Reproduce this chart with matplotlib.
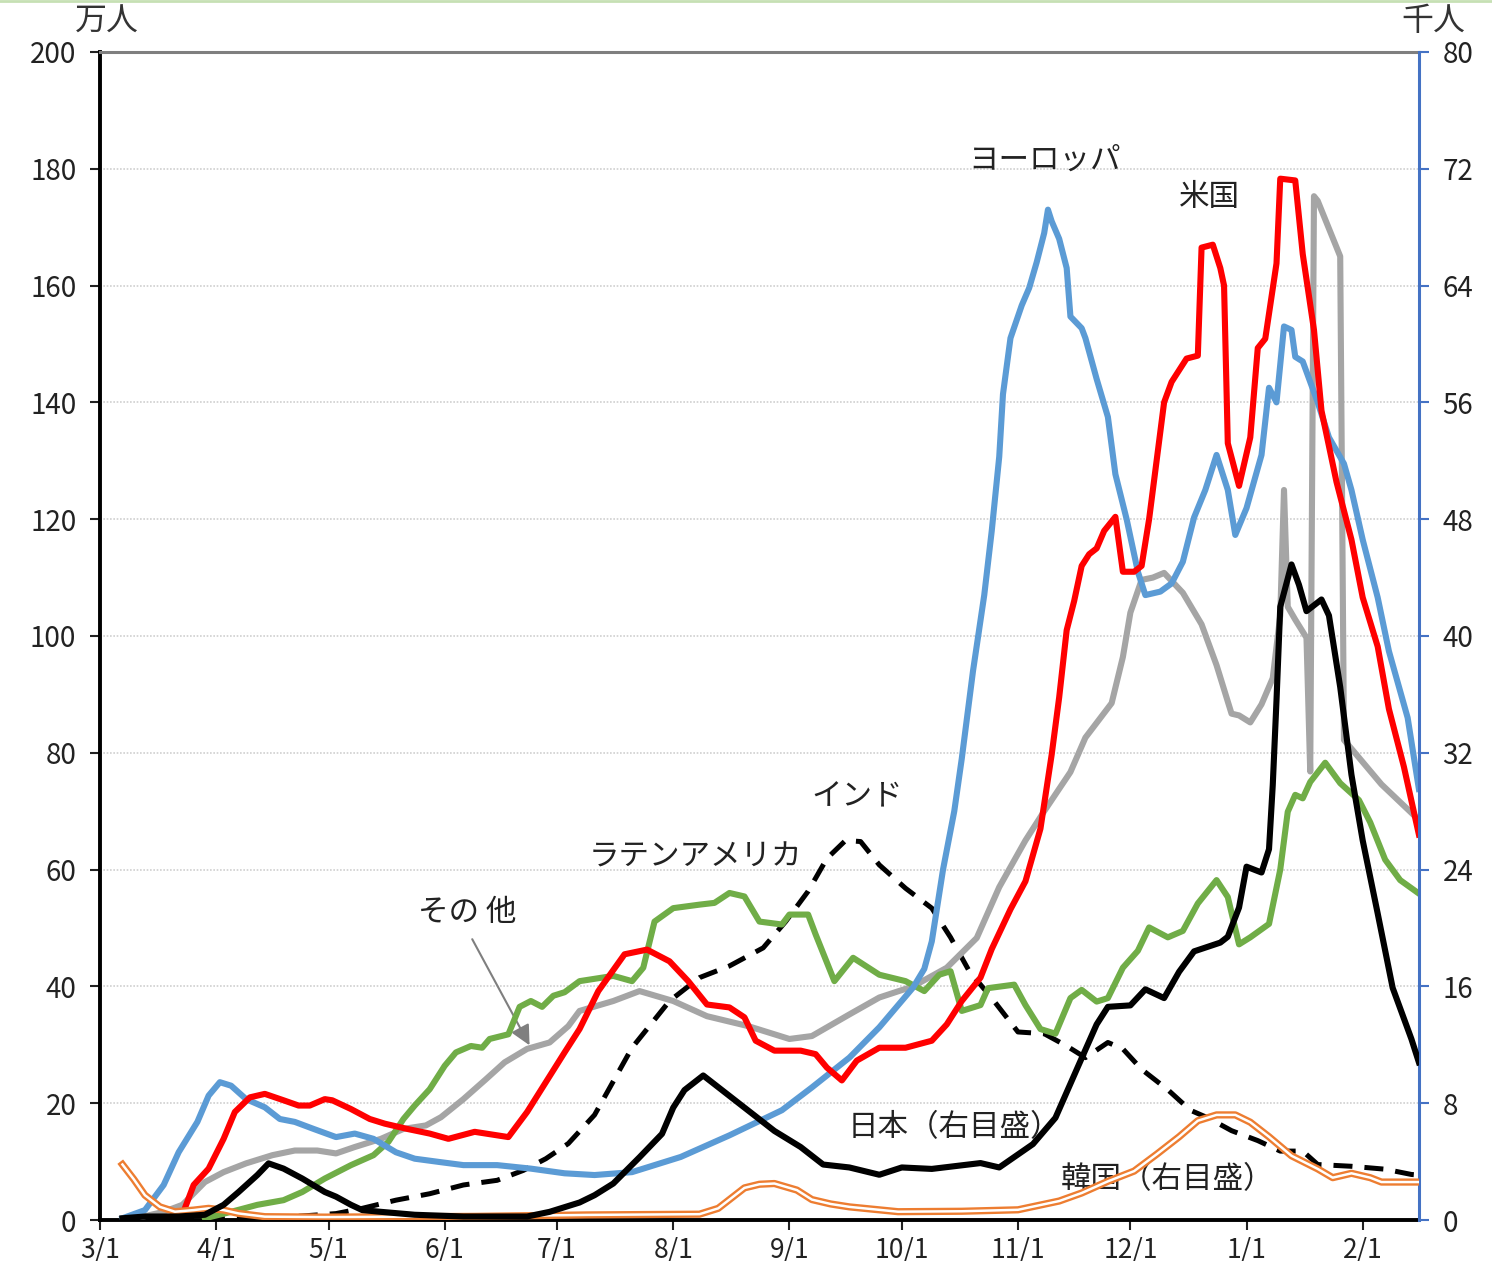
import matplotlib
matplotlib.use("Agg")
import matplotlib.pyplot as plt
import matplotlib.dates as mdates
from matplotlib.lines import Line2D
from matplotlib.ticker import FuncFormatter, MultipleLocator
import pandas as pd

plt.rcParams['font.family'] = ['Noto Sans CJK JP', 'DejaVu Sans']

START = pd.Timestamp("2020-03-01")
END_DAY = 352

# days counted from 2020/3/1; left axis = 万人, right axis = 千人
europe_day = [6, 12, 17, 21, 26, 29, 32, 35, 39, 44, 48, 52, 57, 63, 68, 73, 79, 84, 91, 97,
              106, 115, 124, 132, 142, 155, 168, 182, 190, 200, 208, 217, 220, 222, 225, 228, 230, 233, 236, 238,
              240, 241, 243, 246, 248, 250, 252, 253, 254, 256, 258, 259, 262, 263, 266, 269, 271, 274, 277, 279,
              283, 286, 289, 292, 295, 298, 301, 303, 306, 310, 312, 314, 316, 318, 319, 321, 325, 328, 332, 334,
              337, 341, 344, 349, 352]
europe_val = [0.3, 1.7, 6, 11.6, 16.8, 21.3, 23.6, 23, 20.7, 19.3, 17.3, 16.8, 15.6, 14.2, 14.8, 13.9, 11.6, 10.5, 9.9, 9.4,
              9.4, 8.8, 8, 7.7, 8.2, 10.8, 14.5, 18.8, 22.7, 27.8, 33, 39.8, 43, 47.7, 60, 70, 79, 94, 107, 118,
              130.7, 141.4, 151, 156.6, 159.6, 164, 169, 173, 171, 168, 163, 154.7, 152.7, 151, 144, 137.5, 127.7, 120, 111, 107,
              107.6, 109, 112.7, 120.3, 125, 131, 125, 117.3, 121.9, 131, 142.5, 140, 153, 152.4, 147.8, 147, 140, 134, 129.5, 125,
              116.5, 106.6, 97.4, 86, 73.8]

us_day = [22, 25, 29, 33, 36, 40, 44, 49, 53, 56, 60, 62, 67, 72, 76, 82, 88, 93, 100, 106,
          109, 114, 119, 124, 128, 133, 140, 146, 152, 157, 162, 168, 172, 175, 180, 187, 191, 194, 198, 202,
          208, 215, 222, 226, 230, 235, 238, 243, 247, 251, 254, 256, 258, 260, 262, 264, 266, 268, 271, 273,
          276, 278, 280, 282, 284, 286, 290, 293, 294, 297, 299, 300, 301, 304, 307, 309, 311, 314, 315, 319,
          321, 324, 326, 330, 334, 337, 341, 344, 348, 352]
us_val = [0.9, 6, 8.8, 13.9, 18.5, 21, 21.6, 20.5, 19.6, 19.6, 20.7, 20.5, 19, 17.3, 16.5, 15.6, 14.8, 13.9, 15.1, 14.5,
          14.2, 18.5, 23.6, 28.7, 32.7, 39.2, 45.5, 46.3, 44.3, 40.9, 36.9, 36.4, 34.7, 30.7, 29, 29, 28.4, 26.1, 23.9, 27.3,
          29.5, 29.5, 30.7, 33.5, 37.5, 41.5, 46.4, 53.2, 58, 67, 79.7, 89.5, 101, 106, 112, 114, 115, 118, 120.4, 111,
          111, 112, 120, 130, 140, 143.5, 147.5, 148, 166.5, 167, 163, 160, 133, 125.7, 134, 149.3, 150.9, 163.8, 178.3, 178,
          165.4, 152.4, 138.6, 126.4, 116.5, 106.6, 98.2, 87.5, 77.6, 66]

other_day = [11, 17, 22, 28, 33, 39, 46, 52, 58, 63, 68, 75, 81, 87, 91, 97, 103, 108, 114, 120,
             125, 128, 137, 144, 153, 162, 173, 184, 190, 200, 208, 217, 226, 234, 240, 247, 252, 259, 263, 270,
             273, 275, 278, 281, 284, 289, 294, 298, 302, 304, 307, 310, 313, 315, 316, 317, 319, 322, 323, 324,
             325, 331, 332, 334, 342, 352]
other_val = [0.5, 1.4, 2.6, 6.5, 8.2, 9.7, 11.1, 11.9, 11.9, 11.4, 12.5, 13.9, 15.6, 16.2, 17.6, 20.7, 24.1, 27, 29.3, 30.4,
             33.2, 35.8, 37.5, 39.2, 37.5, 34.9, 33.2, 31, 31.5, 35.2, 38.1, 40, 43.2, 48.3, 57, 65, 70, 76.7, 82.6, 88.5,
             96.4, 104, 109.6, 110, 110.8, 107.4, 102, 95, 86.7, 86.4, 85.2, 88.3, 92.8, 103.5, 125, 105, 102.8, 99.7, 76.8, 175.3,
             174.5, 165, 82.2, 80.7, 74.6, 68.5]

latam_day = [28, 35, 42, 49, 54, 60, 67, 73, 77, 81, 84, 88, 92, 95, 99, 102, 104, 109, 112, 115,
             118, 121, 124, 128, 137, 142, 145, 148, 153, 160, 164, 168, 172, 176, 182, 184, 189, 191, 196, 201,
             208, 215, 220, 224, 227, 230, 235, 237, 244, 247, 251, 255, 259, 262, 266, 269, 273, 277, 280, 285,
             289, 293, 298, 301, 304, 307, 312, 315, 317, 319, 321, 323, 327, 331, 336, 339, 343, 347, 352]
latam_val = [0.3, 1.4, 2.6, 3.4, 4.8, 7.1, 9.4, 11.1, 13.4, 17.3, 19.6, 22.4, 26.4, 28.7, 29.8, 29.5, 31, 31.8, 36.5, 37.5,
             36.5, 38.4, 39, 40.9, 41.8, 40.9, 43.2, 51.1, 53.4, 54, 54.3, 56, 55.4, 51.1, 50.6, 52.3, 52.3, 48.9, 40.9, 44.9,
             42, 40.9, 39.2, 42, 42.6, 35.8, 36.8, 39.7, 40.3, 36.8, 32.7, 31.9, 38, 39.4, 37.4, 38, 43.2, 46.1, 50.1, 48.4,
             49.5, 54.2, 58.2, 55.3, 47.2, 48.4, 50.7, 60, 69.9, 72.8, 72.2, 75, 78.3, 74.8, 71.9, 68.1, 61.7, 58.2, 55.9]

india_day = [20, 44, 52, 63, 70, 79, 88, 97, 106, 113, 119, 125, 132, 142, 152, 160, 168, 177, 183, 189,
             194, 199, 203, 208, 215, 222, 227, 232, 238, 245, 252, 258, 263, 269, 273, 278, 285, 291, 296, 302,
             309, 315, 321, 325, 334, 343, 350, 352]
india_val = [0.1, 0.3, 0.6, 1.1, 2, 3.4, 4.5, 6, 6.8, 8.5, 10.5, 13.1, 18, 29.5, 37.5, 41.5, 43.5, 46.6, 51.1, 56.3,
             61.9, 65, 64.8, 60.8, 56.8, 53.4, 48.4, 42.6, 38, 32.2, 31.9, 29.8, 27.8, 30.4, 29.3, 25.8, 22.3, 18.8, 17.4, 15.3,
             13.6, 11.8, 11.8, 9.5, 9.2, 8.7, 7.8, 7.7]

# right axis (千人)
japan_day = [6, 12, 21, 28, 33, 37, 42, 45, 49, 54, 60, 63, 67, 70, 75, 84, 97, 114, 120, 128,
             132, 137, 144, 150, 153, 156, 161, 166, 173, 180, 187, 193, 200, 208, 214, 222, 235, 240, 249, 255,
             261, 266, 269, 275, 279, 284, 288, 292, 299, 301, 304, 306, 310, 312, 313, 314, 315, 318, 320, 322,
             326, 328, 331, 334, 337, 341, 345, 350, 352]
japan_val = [0.12, 0.24, 0.24, 0.36, 1.04, 1.92, 3.08, 3.88, 3.52, 2.84, 1.92, 1.6, 1.04, 0.68, 0.56, 0.36, 0.24, 0.24, 0.56, 1.2,
             1.7, 2.5, 4.3, 5.9, 7.7, 8.9, 9.9, 8.9, 7.5, 6.1, 5.0, 3.8, 3.6, 3.1, 3.6, 3.5, 3.9, 3.6, 5.2, 7.0,
             10.5, 13.4, 14.6, 14.7, 15.8, 15.2, 17.0, 18.4, 19.0, 19.4, 21.4, 24.2, 23.8, 25.4, 29.8, 35.6, 42.0, 44.9, 43.5, 41.7,
             42.5, 41.4, 36.5, 30.5, 26, 21, 15.9, 12.4, 10.8]

korea_day = [6, 9, 12, 16, 20, 25, 29, 33, 37, 44, 60, 100, 130, 160, 165, 168, 172, 176, 180, 186,
             190, 195, 200, 213, 230, 245, 256, 262, 269, 276, 282, 288, 293, 298, 303, 307, 312, 318, 325, 329,
             334, 339, 342, 352]
korea_val = [3.8, 2.8, 1.7, 0.9, 0.57, 0.68, 0.8, 0.68, 0.45, 0.23, 0.2, 0.25, 0.35, 0.4, 0.8, 1.4, 2.2, 2.45, 2.5, 2.05,
             1.4, 1.1, 0.9, 0.57, 0.6, 0.7, 1.3, 1.85, 2.65, 3.35, 4.5, 5.7, 6.8, 7.2, 7.2, 6.7, 5.7, 4.4, 3.5, 2.9,
             3.2, 2.9, 2.6, 2.6]


def to_dates(days):
    return START + pd.to_timedelta(days, unit="D")


fig = plt.figure(figsize=(14.92, 12.61), dpi=100)
ax = fig.add_axes([0.067, 0.0325, 0.884, 0.9263])
ax2 = ax.twinx()

LW = 4.4
# main series (left axis)
ax.plot(to_dates(india_day), india_val, color='black', lw=3.6, dashes=(3.8, 2.4), zorder=3)
ax.plot(to_dates(other_day), other_val, color='#a5a5a5', lw=LW, zorder=4)
ax.plot(to_dates(latam_day), latam_val, color='#70ad47', lw=LW, zorder=4)
ax.plot(to_dates(europe_day), europe_val, color='#5b9bd5', lw=LW, zorder=5)
ax.plot(to_dates(us_day), us_val, color='#ff0000', lw=LW, zorder=6)

# right-axis series
ax2.plot(to_dates(korea_day), korea_val, color='#ed7d31', lw=5.2, zorder=3)
ax2.plot(to_dates(korea_day), korea_val, color='white', lw=1.8, zorder=4)
ax2.plot(to_dates(japan_day), japan_val, color='black', lw=LW, zorder=5)

xmin, xmax = START, START + pd.Timedelta(days=END_DAY)
ax.set_xlim(xmin, xmax)
ax.set_ylim(0, 200)
ax2.set_ylim(0, 80)

ax.yaxis.set_major_locator(MultipleLocator(20))
ax2.yaxis.set_major_locator(MultipleLocator(8))
ax.xaxis.set_major_locator(mdates.MonthLocator(bymonthday=1))
ax.xaxis.set_major_formatter(FuncFormatter(lambda v, p: f"{mdates.num2date(v).month}/1"))

ax.grid(axis='y', color='#cfcfcf', linestyle=(0, (1, 1)), lw=1.2)
ax.set_axisbelow(True)

ax.tick_params(axis='y', direction='out', length=7, width=1.5, pad=10, labelsize=20, colors='#222222')
ax.tick_params(axis='x', direction='out', length=7, width=1.5, pad=5, labelsize=19, colors='#222222')
ax2.tick_params(axis='y', direction='out', length=7, width=1.5, pad=10, labelsize=20,
                color='#4472c4', labelcolor='#222222')

for s in ['left', 'bottom']:
    ax.spines[s].set_linewidth(2.8)
    ax.spines[s].set_color('black')
ax.spines['top'].set_color('#7f7f7f')
ax.spines['top'].set_linewidth(2.2)
ax2.spines['top'].set_visible(False)
ax2.spines['left'].set_visible(False)
ax2.spines['bottom'].set_visible(False)
ax2.spines['right'].set_color('#4472c4')
ax2.spines['right'].set_linewidth(2.2)
ax.spines['right'].set_visible(False)

# series labels
lab = dict(fontsize=22, color='#222222', ha='center', va='center')
ax.text(to_dates(252), 181.5, 'ヨーロッパ', **lab)
ax.text(to_dates(296), 175, '米国', **lab)
ax.text(to_dates(202), 72.4, 'インド', **lab)
ax.text(to_dates(159), 62.2, 'ラテンアメリカ', **lab)
ax.text(to_dates(98), 52.7, 'その 他', **lab)
ax.text(to_dates(228), 15.8, '日本（右目盛）', zorder=10, **lab)
ax.text(to_dates(285), 6.9, '韓国（右目盛）', zorder=10, **lab)
ax.annotate('', xy=(to_dates(115), 29.5), xytext=(to_dates(99), 48.5),
            arrowprops=dict(arrowstyle='-|>', color='#7f7f7f', lw=1.5, mutation_scale=30))

fig.text(0.05, 0.983, '万人', fontsize=23, color='#333333', ha='left', va='center')
fig.text(0.961, 0.983, '千人', fontsize=23, color='#333333', ha='center', va='center')

fig.add_artist(Line2D([0, 1], [0.999, 0.999], color='#c6e0b4', lw=2))

fig.savefig('out.png', dpi=100)
